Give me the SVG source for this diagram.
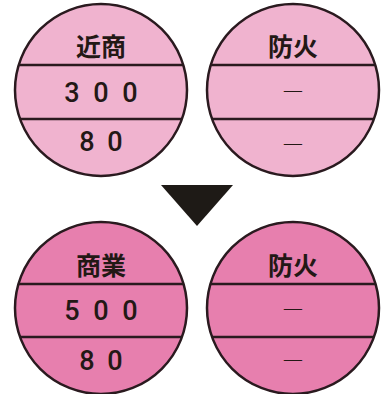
<svg xmlns="http://www.w3.org/2000/svg" width="381" height="394" viewBox="0 0 381 394">
<style>
.c{stroke:#2a1a1f;stroke-width:2.5}
.top{fill:#f0b3cf}
.bot{fill:#e77fae}
.d{stroke:#2a1a1f;stroke-width:2.5}
.h{font-family:"Noto Sans CJK JP",sans-serif;font-weight:700;font-size:25px;fill:#231815;text-anchor:middle}
.n{font-family:Roboto,"Noto Sans",sans-serif;font-weight:500;font-size:27px;fill:#231815;text-anchor:middle}
.m{font-family:"Noto Sans CJK JP",sans-serif;font-weight:300;font-size:23px;fill:#231815;text-anchor:middle}
</style>
<defs>
<clipPath id="k1"><circle cx="101" cy="90" r="86"/></clipPath>
<clipPath id="k2"><circle cx="293" cy="90" r="86"/></clipPath>
<clipPath id="k3"><circle cx="101" cy="308" r="86"/></clipPath>
<clipPath id="k4"><circle cx="293" cy="308" r="86"/></clipPath>
</defs>
<g id="before-kinsho">
<circle class="c top" cx="101" cy="90" r="86"/>
<g clip-path="url(#k1)"><line class="d" x1="0" y1="65" x2="200" y2="65"/><line class="d" x1="0" y1="119" x2="200" y2="119"/></g>
<text class="h" x="101" y="56">近商</text>
<text class="n" x="72 101 130" y="102">300</text>
<text class="n" x="87 115" y="151">80</text>
</g>
<g id="before-bouka">
<circle class="c top" cx="293" cy="90" r="86"/>
<g clip-path="url(#k2)"><line class="d" x1="190" y1="65" x2="381" y2="65"/><line class="d" x1="190" y1="119" x2="381" y2="119"/></g>
<text class="h" x="293" y="56">防火</text>
<text class="m" x="293" y="98">—</text>
<text class="m" x="293" y="151">—</text>
</g>
<g id="connectors">
<polygon points="161,185 233,185 197,226" fill="#1e1a16"/>
</g>
<g id="after-shogyo">
<circle class="c bot" cx="101" cy="308" r="86"/>
<g clip-path="url(#k3)"><line class="d" x1="0" y1="284" x2="200" y2="284"/><line class="d" x1="0" y1="337" x2="200" y2="337"/></g>
<text class="h" x="101" y="275">商業</text>
<text class="n" x="72 101 130" y="320">500</text>
<text class="n" x="87 115" y="370">80</text>
</g>
<g id="after-bouka">
<circle class="c bot" cx="293" cy="308" r="86"/>
<g clip-path="url(#k4)"><line class="d" x1="190" y1="284" x2="381" y2="284"/><line class="d" x1="190" y1="337" x2="381" y2="337"/></g>
<text class="h" x="293" y="275">防火</text>
<text class="m" x="293" y="316">—</text>
<text class="m" x="293" y="367">—</text>
</g>
</svg>
